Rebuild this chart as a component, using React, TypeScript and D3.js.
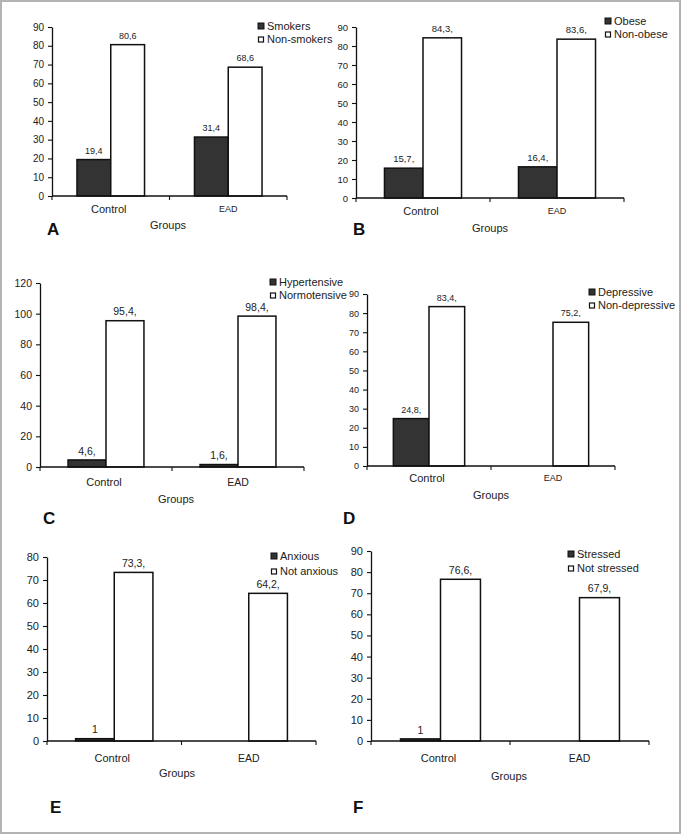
import React, { useEffect, useRef } from 'react';
import * as d3 from 'd3';

// chart values
const groups = ['Control', 'EAD'];
const panelLetters = ['A', 'B', 'C', 'D', 'E', 'F'];
const seriesNames = [
  ['Smokers', 'Non-smokers'],
  ['Obese', 'Non-obese'],
  ['Hypertensive', 'Normotensive'],
  ['Depressive', 'Non-depressive'],
  ['Anxious', 'Not anxious'],
  ['Stressed', 'Not stressed'],
];
const darkValues = [[19.4, 31.4], [15.7, 16.4], [4.6, 1.6], [24.8, 0], [1, 0], [1, 0]];
const lightValues = [[80.6, 68.6], [84.3, 83.6], [95.4, 98.4], [83.4, 75.2], [73.3, 64.2], [76.6, 67.9]];
const darkLabels = [['19,4', '31,4'], ['15,7,', '16,4,'], ['4,6,', '1,6,'], ['24,8,', ''], ['1', ''], ['1', '']];
const lightLabels = [['80,6', '68,6'], ['84,3,', '83,6,'], ['95,4,', '98,4,'], ['83,4,', '75,2,'], ['73,3,', '64,2,'], ['76,6,', '67,9,']];
const yMax = [90, 90, 120, 90, 80, 90];
const yStep = [10, 10, 20, 10, 10, 10];
const xTitle = 'Groups';

type Layout = {
  x0: number; x1: number; yTop: number; yBot: number;
  legX: number; legY: [number, number];
  catY: number; groupsX: number; groupsY: number;
  letterX: number; letterY: number;
  tickFont: number; valFont: number; eadFont: number;
};

// where each panel sits on the page
const layouts: Layout[] = [
  { x0: 52, x1: 287, yTop: 27, yBot: 196, legX: 258, legY: [26, 39], catY: 209, groupsX: 168, groupsY: 225, letterX: 47, letterY: 229, tickFont: 10, valFont: 9, eadFont: 9 },
  { x0: 356, x1: 624, yTop: 27, yBot: 198, legX: 605, legY: [21, 34], catY: 211, groupsX: 490, groupsY: 228, letterX: 353, letterY: 229, tickFont: 9.5, valFont: 9.5, eadFont: 9 },
  { x0: 40, x1: 304, yTop: 283, yBot: 467, legX: 270, legY: [282, 295], catY: 482, groupsX: 176, groupsY: 499, letterX: 43, letterY: 518, tickFont: 10.5, valFont: 10.5, eadFont: 10.5 },
  { x0: 367, x1: 615, yTop: 294, yBot: 466, legX: 589, legY: [292, 305], catY: 478, groupsX: 491, groupsY: 495, letterX: 343, letterY: 518, tickFont: 9, valFont: 9, eadFont: 9 },
  { x0: 47, x1: 316, yTop: 557, yBot: 741, legX: 271, legY: [556, 571], catY: 758, groupsX: 177, groupsY: 773, letterX: 50, letterY: 807, tickFont: 11, valFont: 10.5, eadFont: 10.5 },
  { x0: 371, x1: 649, yTop: 551, yBot: 741, legX: 568, legY: [554, 568], catY: 758, groupsX: 509, groupsY: 776, letterX: 353, letterY: 807, tickFont: 11, valFont: 10.5, eadFont: 10.5 },
];

const FONT = '"Liberation Sans", Arial, sans-serif';
const TEXT = '#222';
const DARK = '#333';

const App: React.FC = () => {
  const ref = useRef<SVGSVGElement | null>(null);

  useEffect(() => {
    document.body.style.margin = '0';
    if (!ref.current) return;
    const svg = d3.select(ref.current);
    svg.selectAll('*').remove();

    // outer frame
    svg.append('rect')
      .attr('x', 1).attr('y', 1).attr('width', 679).attr('height', 832)
      .attr('fill', 'white').attr('stroke', '#b3b3b3').attr('stroke-width', 2);

    layouts.forEach((L, i) => {
      const g = svg.append('g').attr('font-family', FONT).attr('fill', TEXT);

      const x = d3.scaleBand<string>().domain(groups).range([L.x0, L.x1]).padding(0);
      const groupW = x.bandwidth() * 0.575;
      const xs = d3.scaleBand<number>().domain([0, 1]).range([0, groupW]).padding(0);
      const y = d3.scaleLinear().domain([0, yMax[i]]).range([L.yBot, L.yTop]);

      // y axis
      const yAxis = d3.axisLeft(y)
        .tickValues(d3.range(0, yMax[i] + 0.001, yStep[i]))
        .tickFormat(d3.format('d'))
        .tickSize(4)
        .tickSizeOuter(0)
        .tickPadding(4);
      const ya = g.append('g').attr('transform', `translate(${L.x0},0)`).call(yAxis);
      ya.select('.domain').attr('stroke', '#111').attr('stroke-width', 1.3);
      ya.selectAll('.tick line').attr('stroke', '#111').attr('stroke-width', 1.1);
      ya.selectAll('.tick text').attr('font-family', FONT).attr('font-size', L.tickFont).attr('fill', TEXT);

      // bars
      groups.forEach((grp, gi) => {
        const gx = (x(grp) as number) + (x.bandwidth() - groupW) / 2;
        const vals = [darkValues[i][gi], lightValues[i][gi]];
        const labs = [darkLabels[i][gi], lightLabels[i][gi]];
        vals.forEach((v, si) => {
          if (v <= 0) return;
          const bx = gx + (xs(si) as number);
          g.append('rect')
            .attr('x', bx).attr('y', y(v))
            .attr('width', xs.bandwidth()).attr('height', L.yBot - y(v))
            .attr('fill', si === 0 ? DARK : 'white')
            .attr('stroke', '#111').attr('stroke-width', 1.5);
          if (labs[si]) {
            g.append('text')
              .attr('x', bx + xs.bandwidth() / 2).attr('y', y(v) - 9)
              .attr('dy', '0.35em').attr('text-anchor', 'middle')
              .attr('font-size', L.valFont)
              .text(labs[si]);
          }
        });
      });

      // x axis
      g.append('line')
        .attr('x1', L.x0).attr('x2', L.x1).attr('y1', L.yBot).attr('y2', L.yBot)
        .attr('stroke', '#111').attr('stroke-width', 1.3);
      const edges = [...groups.map(d => x(d) as number), L.x1];
      g.selectAll('.xtick').data(edges).enter().append('line')
        .attr('x1', d => d).attr('x2', d => d)
        .attr('y1', L.yBot).attr('y2', L.yBot + 4)
        .attr('stroke', '#111').attr('stroke-width', 1.1);
      groups.forEach((grp, gi) => {
        g.append('text')
          .attr('x', (x(grp) as number) + x.bandwidth() / 2 - (gi === 0 ? 2 : 0))
          .attr('y', L.catY).attr('dy', '0.35em').attr('text-anchor', 'middle')
          .attr('font-size', gi === 0 ? 11 : L.eadFont)
          .text(grp);
      });
      g.append('text')
        .attr('x', L.groupsX).attr('y', L.groupsY).attr('dy', '0.35em')
        .attr('text-anchor', 'middle').attr('font-size', 11)
        .text(xTitle);

      // panel letter
      g.append('text')
        .attr('x', L.letterX).attr('y', L.letterY).attr('dy', '0.36em')
        .attr('font-size', 17).attr('font-weight', 'bold').attr('fill', '#111')
        .text(panelLetters[i]);

      // legend
      seriesNames[i].forEach((name, si) => {
        const cy = L.legY[si];
        if (si === 0) {
          g.append('rect').attr('x', L.legX).attr('y', cy - 3).attr('width', 6).attr('height', 6)
            .attr('fill', DARK).attr('stroke', '#111').attr('stroke-width', 1);
        } else {
          g.append('rect').attr('x', L.legX + 0.5).attr('y', cy - 2).attr('width', 5).attr('height', 5)
            .attr('fill', 'white').attr('stroke', '#111').attr('stroke-width', 1.2);
        }
        g.append('text')
          .attr('x', L.legX + 9).attr('y', cy).attr('dy', '0.35em')
          .attr('font-size', 11)
          .text(name);
      });
    });
  }, []);

  return <svg ref={ref} width={682} height={835} style={{ display: 'block' }} />;
};

export default App;
